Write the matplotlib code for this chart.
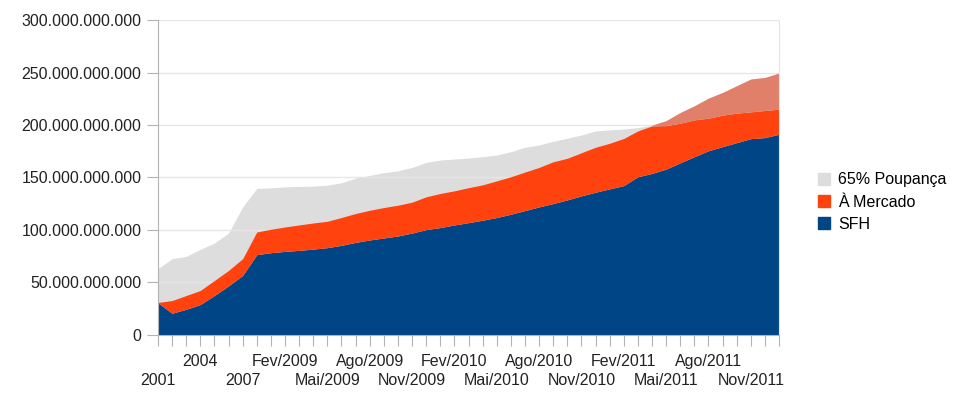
import numpy as np
import matplotlib
matplotlib.use("Agg")
import matplotlib.pyplot as plt
from matplotlib.ticker import FuncFormatter
from matplotlib.patches import Patch

# categories: yearly 2001-2008, then monthly Jan/2009 - Jan/2012
meses = ['Jan', 'Fev', 'Mar', 'Abr', 'Mai', 'Jun', 'Jul', 'Ago', 'Set', 'Out', 'Nov', 'Dez']
periodos = [str(a) for a in range(2001, 2009)]
periodos += [f'{m}/{a}' for a in (2009, 2010, 2011) for m in meses]
periodos += ['Jan/2012']

# values in billions of R$
sfh = [30.6, 20.7, 24.5, 29.0, 37.6, 46.8, 56.7, 76.5, 78.4, 79.6,
       80.6, 81.8, 83.2, 85.4, 88.2, 90.5, 92.4, 94.3, 97.1, 100.4,
       102.3, 104.8, 107.0, 109.3, 111.9, 115.0, 118.5, 122.0, 125.2, 128.7,
       132.5, 136.0, 139.2, 142.3, 150.7, 153.9, 158.0, 164.0, 169.8, 175.5,
       179.4, 183.2, 187.0, 188.0, 191.2]
mercado_total = [31.0, 32.8, 37.6, 42.4, 51.9, 61.5, 72.7, 98.1, 100.7, 102.9,
                 104.8, 106.7, 108.3, 111.9, 115.7, 118.8, 121.4, 123.6, 126.5, 131.6,
                 134.8, 137.3, 140.3, 143.0, 146.8, 150.7, 155.2, 159.6, 165.0, 168.3,
                 173.6, 178.8, 182.6, 187.2, 194.4, 199.1, 199.4, 201.7, 204.9, 206.5,
                 209.4, 211.3, 212.5, 213.8, 215.1]
mercado = [t - s for t, s in zip(mercado_total, sfh)]
poupanca = [63.1, 72.7, 74.9, 81.5, 87.6, 97.1, 122.0, 139.6, 140.2, 141.1,
            141.5, 141.8, 142.7, 145.0, 149.4, 152.0, 154.5, 156.4, 159.6, 164.4,
            166.6, 167.6, 168.5, 169.8, 171.4, 174.6, 178.8, 181.0, 184.5, 187.4,
            190.5, 194.4, 195.3, 196.2, 197.5, 199.8, 204.2, 211.9, 218.3, 225.6,
            231.0, 237.4, 243.8, 245.3, 249.5]

x = np.arange(len(periodos))
sfh = np.array(sfh) * 1e9
mercado = np.array(mercado) * 1e9
poupanca = np.array(poupanca) * 1e9
topo = sfh + mercado

fig = plt.figure(figsize=(9.65, 3.97), dpi=100)
ax = fig.add_axes([0.1637, 0.1562, 0.8073 - 0.1637, 0.9496 - 0.1562])

cinza = '#dddddd'
laranja = '#ff420e'
azul = '#004586'
salmao = '#e0806a'
fonte = 'Liberation Sans'
tam = 11.5

ax.fill_between(x, 0, poupanca, color=cinza, lw=0, zorder=0.4)
ax.fill_between(x, 0, sfh, color=azul, lw=0, zorder=2)
ax.fill_between(x, sfh, topo, color=laranja, lw=0, zorder=2)
ax.fill_between(x, topo, poupanca, where=x >= 35, color=salmao, lw=0, zorder=2)

ax.set_xlim(0, len(periodos) - 1)
ax.set_ylim(0, 300e9)
ax.set_yticks(np.arange(0, 300e9 + 1, 50e9))
ax.yaxis.set_major_formatter(FuncFormatter(lambda v, p: f'{v:,.0f}'.replace(',', '.')))
ax.grid(axis='y', color='#e6e6e6', lw=1)
ax.set_axisbelow(True)

# every category gets a tick, every third gets a label, in two staggered rows
ax.set_xticks(x)
ax.set_xticklabels([])
for i, p in enumerate(periodos):
    if i % 3 != 0:
        continue
    desloc = -50 if (i // 3) % 2 == 0 else -31
    ax.annotate(p, xy=(i, 0), xycoords=('data', 'axes fraction'),
                xytext=(0, desloc), textcoords='offset pixels',
                ha='center', va='baseline', fontsize=tam, fontfamily=fonte,
                color='#222222', annotation_clip=False)
ax.tick_params(axis='x', length=8, color='#b3b3b3')
ax.tick_params(axis='y', length=8, color='#b3b3b3', pad=4, labelsize=tam, labelcolor='#222222')
for t in ax.get_yticklabels():
    t.set_fontfamily(fonte)

for s in ['left', 'bottom']:
    ax.spines[s].set_color('#b3b3b3')
ax.spines['top'].set_visible(False)
ax.spines['right'].set_color('#e6e6e6')

handles = [Patch(color=cinza, label='65% Poupança'),
           Patch(color=laranja, label='À Mercado'),
           Patch(color=azul, label='SFH')]
fig.legend(handles=handles, loc='center left', bbox_to_anchor=(0.833, 0.491),
           frameon=False, prop={'family': fonte, 'size': tam},
           handlelength=0.75, handleheight=0.75, handletextpad=0.5, labelspacing=0.45)

fig.savefig('out.png', dpi=100)
